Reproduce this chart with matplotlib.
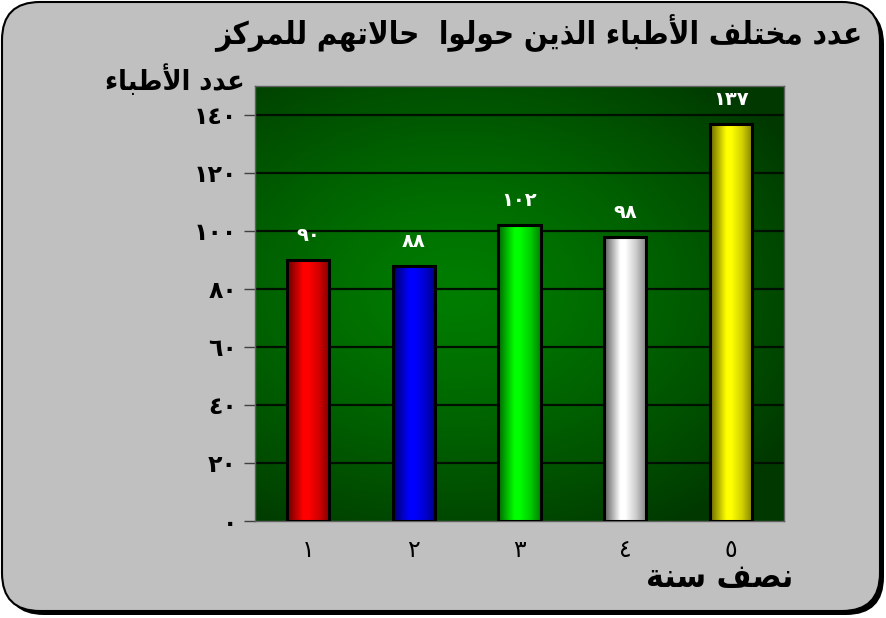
import numpy as np
import matplotlib
matplotlib.use("Agg")
import matplotlib.pyplot as plt
from matplotlib.patches import FancyBboxPatch
from matplotlib.colors import to_rgb

# ---------------- data ----------------
categories = ['١', '٢', '٣', '٤', '٥']
values = [90, 88, 102, 98, 137]
value_labels = ['٩٠', '٨٨', '١٠٢', '٩٨', '١٣٧']
bar_colors = ['#FF0000', '#0000FF', '#00FF00', '#FFFFFF', '#FFFF00']
y_ticks = [0, 20, 40, 60, 80, 100, 120, 140]
y_tick_labels = ['٠', '٢٠', '٤٠', '٦٠', '٨٠', '١٠٠', '١٢٠', '١٤٠']
title_text = 'عدد مختلف الأطباء الذين حولوا  حالاتهم للمركز'
ylabel_text = 'عدد الأطباء'
xlabel_text = 'نصف سنة'

# ---------------- minimal Arabic shaping ----------------
# (isolated, final, initial, medial)
FORMS = {
    'ء': ('\uFE80', None, None, None),
    'أ': ('\uFE83', '\uFE84', None, None),
    'ا': ('\uFE8D', '\uFE8E', None, None),
    'ب': ('\uFE8F', '\uFE90', '\uFE91', '\uFE92'),
    'ة': ('\uFE93', '\uFE94', None, None),
    'ت': ('\uFE95', '\uFE96', '\uFE97', '\uFE98'),
    'ح': ('\uFEA1', '\uFEA2', '\uFEA3', '\uFEA4'),
    'خ': ('\uFEA5', '\uFEA6', '\uFEA7', '\uFEA8'),
    'د': ('\uFEA9', '\uFEAA', None, None),
    'ذ': ('\uFEAB', '\uFEAC', None, None),
    'ر': ('\uFEAD', '\uFEAE', None, None),
    'ز': ('\uFEAF', '\uFEB0', None, None),
    'س': ('\uFEB1', '\uFEB2', '\uFEB3', '\uFEB4'),
    'ص': ('\uFEB9', '\uFEBA', '\uFEBB', '\uFEBC'),
    'ط': ('\uFEC1', '\uFEC2', '\uFEC3', '\uFEC4'),
    'ع': ('\uFEC9', '\uFECA', '\uFECB', '\uFECC'),
    'ف': ('\uFED1', '\uFED2', '\uFED3', '\uFED4'),
    'ك': ('\uFED9', '\uFEDA', '\uFEDB', '\uFEDC'),
    'ل': ('\uFEDD', '\uFEDE', '\uFEDF', '\uFEE0'),
    'م': ('\uFEE1', '\uFEE2', '\uFEE3', '\uFEE4'),
    'ن': ('\uFEE5', '\uFEE6', '\uFEE7', '\uFEE8'),
    'ه': ('\uFEE9', '\uFEEA', '\uFEEB', '\uFEEC'),
    'و': ('\uFEED', '\uFEEE', None, None),
    'ي': ('\uFEF1', '\uFEF2', '\uFEF3', '\uFEF4'),
}
LAM_ALEF = {'ا': ('\uFEFB', '\uFEFC'), 'أ': ('\uFEF7', '\uFEF8')}


def shape(text):
    ch = list(text)
    n = len(ch)
    out = []
    i = 0
    while i < n:
        c = ch[i]
        if c not in FORMS:
            out.append(c)
            i += 1
            continue
        prev = ch[i - 1] if i > 0 else None
        con_prev = (prev in FORMS and FORMS[prev][2] is not None
                    and FORMS[c][1] is not None)
        if c == 'ل' and i + 1 < n and ch[i + 1] in LAM_ALEF:
            lig = LAM_ALEF[ch[i + 1]]
            out.append(lig[1] if con_prev else lig[0])
            i += 2
            continue
        nxt = ch[i + 1] if i + 1 < n else None
        con_next = (FORMS[c][2] is not None and nxt in FORMS
                    and FORMS[nxt][1] is not None)
        iso, fin, ini, med = FORMS[c]
        if con_prev and con_next:
            g = med
        elif con_prev:
            g = fin
        elif con_next:
            g = ini
        else:
            g = iso
        out.append(g)
        i += 1
    return ''.join(reversed(out))


FONT = ['DejaVu Sans']
plt.rcParams['font.family'] = FONT

W, H = 886, 618
fig = plt.figure(figsize=(W / 100, H / 100), dpi=100)
fig.patch.set_facecolor('white')

# background frame
bg = fig.add_axes([0, 0, 1, 1])
bg.set_xlim(0, W)
bg.set_ylim(H, 0)
bg.axis('off')
shadow = FancyBboxPatch((6, 6), 878, 609, boxstyle='round,pad=0,rounding_size=38',
                        facecolor='black', edgecolor='black', lw=0)
bg.add_patch(shadow)
frame = FancyBboxPatch((2, 2), 878, 609, boxstyle='round,pad=0,rounding_size=38',
                       facecolor='#C0C0C0', edgecolor='black', lw=1.5)
bg.add_patch(frame)

# main axes
L, R, T, B = 255, 784, 86, 521
ax = fig.add_axes([L / W, 1 - B / H, (R - L) / W, (B - T) / H])
ax.set_xlim(-0.5, len(categories) - 0.5)
ax.set_ylim(0, 150)

# radial green gradient background
ny, nx = 200, 300
yy, xx = np.mgrid[0:1:ny * 1j, 0:1:nx * 1j]
cx, cy = 0.38, 0.47
d = np.sqrt(((xx - cx) / 0.75) ** 2 + ((yy - cy) / 0.65) ** 2)
t = np.clip(d, 0, 1) ** 1.3
c_in = np.array([0.0, 0.49, 0.0])
c_out = np.array([0.0, 0.22, 0.0])
img = c_in[None, None, :] * (1 - t[..., None]) + c_out[None, None, :] * t[..., None]
ax.imshow(img, extent=[-0.5, len(categories) - 0.5, 0, 150], aspect='auto',
          origin='upper', zorder=0, interpolation='bilinear')

for yv in y_ticks[1:]:
    ax.axhline(yv, color='#001000', lw=1.6, zorder=1)

x = np.arange(len(categories))
bw = 0.4
bars = ax.bar(x, values, width=bw, facecolor='none', edgecolor='black',
              linewidth=2.2, zorder=3)

# cylinder shading
prof_pos = [0.0, 0.38, 0.5, 0.75, 1.0]
prof_val = [0.4, 1.0, 1.0, 0.82, 0.5]
tx = np.linspace(0, 1, 120)
prof = np.interp(tx, prof_pos, prof_val)
for b, col in zip(bars, bar_colors):
    base = np.array(to_rgb(col))
    grad = np.clip(base[None, :] * prof[:, None], 0, 1)
    if col.upper() == '#FFFFFF':
        gp = np.interp(tx, prof_pos, [0.35, 1.0, 1.0, 0.8, 0.5])
        grad = np.stack([gp, gp, gp], axis=1)
    gimg = grad[None, :, :]
    bx, by = b.get_x(), b.get_y()
    ax.imshow(gimg, extent=[bx, bx + b.get_width(), by, by + b.get_height()],
              aspect='auto', zorder=2, interpolation='bilinear')

ax.set_xlim(-0.5, len(categories) - 0.5)
ax.set_ylim(0, 150)

for xi, v, lab in zip(x, values, value_labels):
    ax.text(xi, v + 8.5, lab, ha='center', va='center', color='white',
            fontsize=14, fontweight='bold', zorder=4)

ax.set_yticks(y_ticks)
ax.set_yticklabels(y_tick_labels, fontsize=17, fontweight='bold')
ax.set_xticks(x)
ax.set_xticklabels(categories, fontsize=17)
ax.tick_params(axis='y', length=8, width=1, color='#404040', pad=5)
ax.tick_params(axis='x', length=0, pad=12)
for s in ax.spines.values():
    s.set_color('#606060')
    s.set_linewidth(1)

# texts
fig.text(862 / W, 1 - 33 / H, shape(title_text), ha='right', va='center',
         fontsize=22.4, fontweight='bold', fontstretch='condensed', color='black')
fig.text(245 / W, 1 - 80 / H, shape(ylabel_text), ha='right', va='center',
         fontsize=20.5, fontweight='bold', fontstretch='condensed', color='black')
fig.text(793 / W, 1 - 577 / H, shape(xlabel_text), ha='right', va='center',
         fontsize=24, fontweight='bold', fontstretch='condensed', color='black')

fig.savefig('out.png', dpi=100, facecolor='white')
